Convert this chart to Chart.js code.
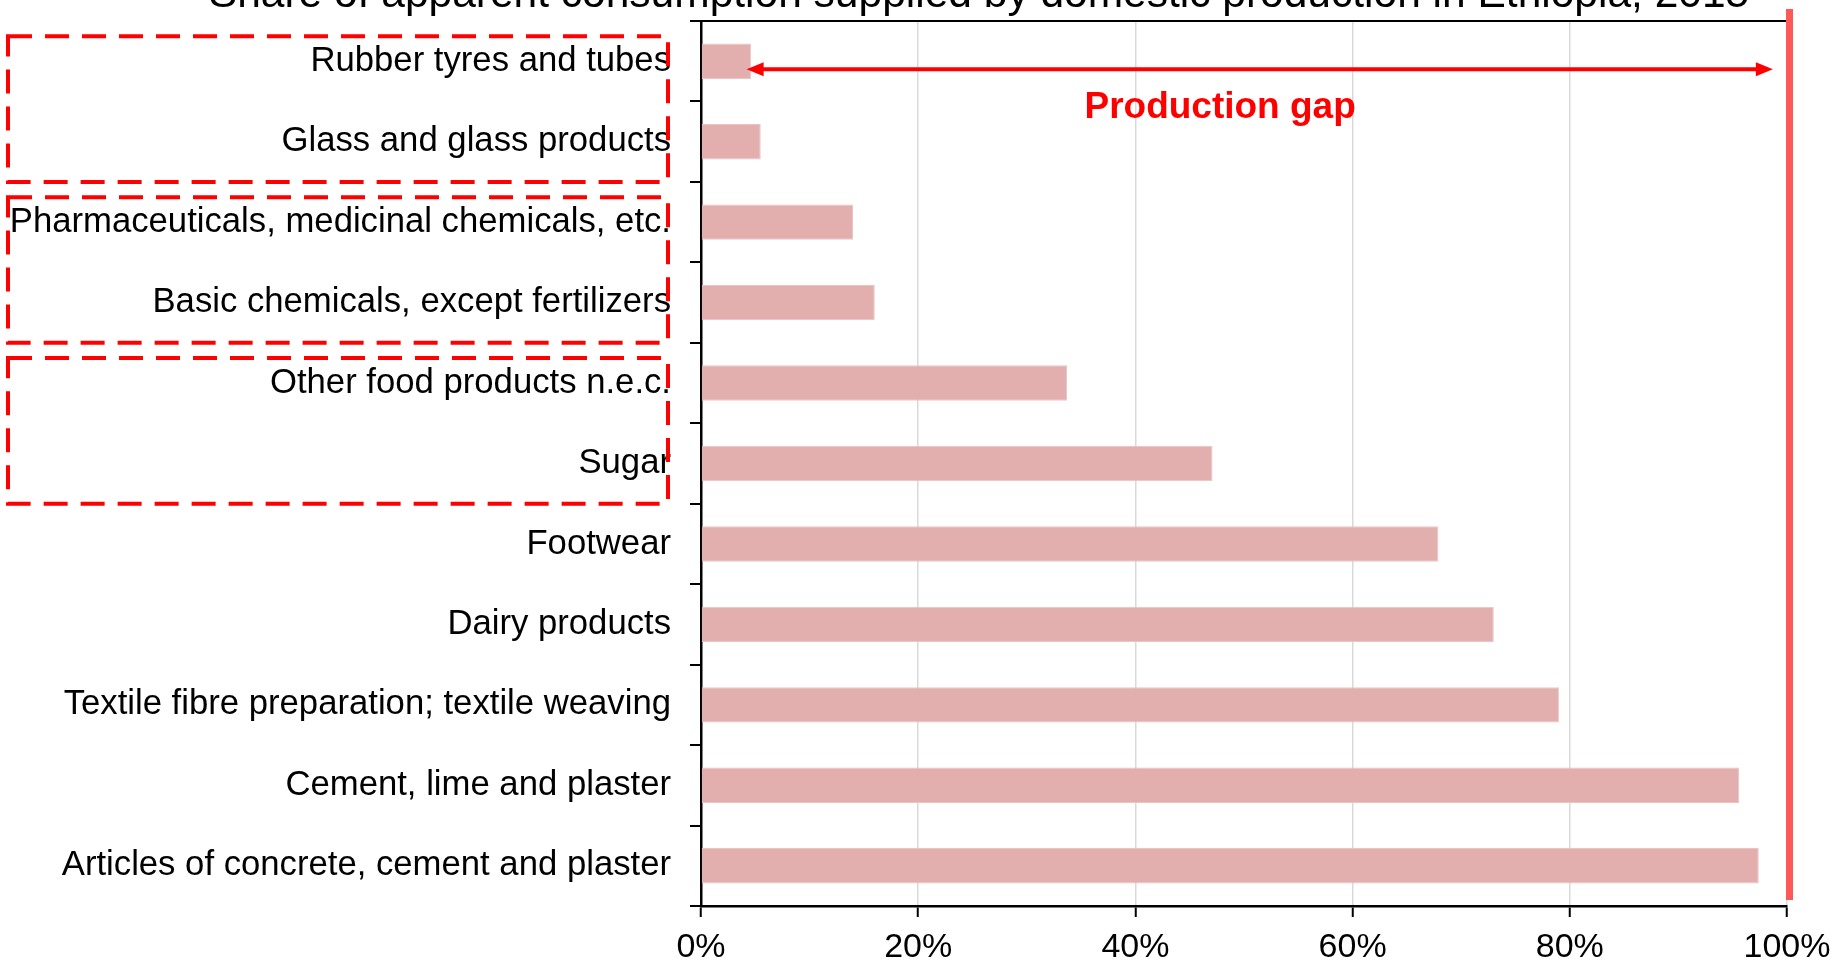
<!DOCTYPE html>
<html>
<head>
<meta charset="utf-8">
<script src="https://cdn.jsdelivr.net/npm/chart.js@4.4.1/dist/chart.umd.min.js"></script>
<style>
  html, body { margin: 0; padding: 0; background: #ffffff; overflow: hidden; }
  #wrap { width: 1835px; height: 966px; position: relative; }
</style>
</head>
<body>
<div id="wrap"><canvas id="c" width="1835" height="966"></canvas></div>
<script>
// ---- Data ----
const titleText = "Share of apparent consumption supplied by domestic production in Ethiopia, 2015";
const categories = [
  "Rubber tyres and tubes",
  "Glass and glass products",
  "Pharmaceuticals, medicinal chemicals, etc.",
  "Basic chemicals, except fertilizers",
  "Other food products n.e.c.",
  "Sugar",
  "Footwear",
  "Dairy products",
  "Textile fibre preparation; textile weaving",
  "Cement, lime and plaster",
  "Articles of concrete, cement and plaster"
];
const shareValues = [0.046, 0.055, 0.140, 0.160, 0.337, 0.471, 0.679, 0.730, 0.790, 0.956, 0.974];
const xTickValues = [0, 0.2, 0.4, 0.6, 0.8, 1.0];
const highlightGroups = [[0, 1], [2, 3], [4, 5]];
const gapLabel = "Production gap";
const gapArrowFrom = 0.042;
const gapArrowTo = 0.987;
const fullSupply = 1.0;

const FONT = '"Liberation Sans", Arial, Helvetica, sans-serif';

const overlay = {
  id: 'overlay',
  afterDatasetsDraw(chart) {
    const ctx = chart.ctx;
    const x = chart.scales.x, y = chart.scales.y;
    const ca = chart.chartArea;
    ctx.save();
    // plot-area top border
    ctx.strokeStyle = '#000';
    ctx.lineWidth = 2;
    ctx.beginPath();
    ctx.moveTo(ca.left, ca.top);
    ctx.lineTo(ca.right, ca.top);
    ctx.stroke();
    // 100% reference line
    const px = x.getPixelForValue(fullSupply);
    ctx.fillStyle = '#FF5858';
    ctx.fillRect(px - 1, ca.top - 12, 7, ca.bottom - ca.top + 6);
    // production gap arrow
    const step = y.getPixelForValue(1) - y.getPixelForValue(0);
    const ay = y.getPixelForValue(0) + 0.1 * step;
    const ax1 = x.getPixelForValue(gapArrowFrom);
    const ax2 = x.getPixelForValue(gapArrowTo);
    const hl = 17, hw = 7;
    ctx.strokeStyle = '#FF0000';
    ctx.fillStyle = '#FF0000';
    ctx.lineWidth = 4;
    ctx.beginPath();
    ctx.moveTo(ax1 + hl - 2, ay);
    ctx.lineTo(ax2 - hl + 2, ay);
    ctx.stroke();
    ctx.beginPath();
    ctx.moveTo(ax1, ay); ctx.lineTo(ax1 + hl, ay - hw); ctx.lineTo(ax1 + hl, ay + hw); ctx.closePath();
    ctx.fill();
    ctx.beginPath();
    ctx.moveTo(ax2, ay); ctx.lineTo(ax2 - hl, ay - hw); ctx.lineTo(ax2 - hl, ay + hw); ctx.closePath();
    ctx.fill();
    // label
    ctx.font = 'bold 37px ' + FONT;
    ctx.textAlign = 'center';
    ctx.textBaseline = 'middle';
    ctx.fillText(gapLabel, x.getPixelForValue(0.478), y.getPixelForValue(0.58));
    ctx.restore();
  },
  afterDraw(chart) {
    const ctx = chart.ctx;
    const y = chart.scales.y;
    const step = y.getPixelForValue(1) - y.getPixelForValue(0);
    ctx.save();
    // title (partly off the top of the picture)
    ctx.font = '42.5px ' + FONT;
    ctx.fillStyle = '#000';
    ctx.textAlign = 'center';
    ctx.textBaseline = 'alphabetic';
    ctx.fillText(titleText, 979, 7);
    // dashed group boxes
    ctx.strokeStyle = '#FF0000';
    ctx.lineWidth = 4;
    ctx.setLineDash([24, 13]);
    const left = 8, right = y.right - 33;
    highlightGroups.forEach(g => {
      const top = y.getPixelForValue(g[0]) - 0.31 * step;
      const bottom = y.getPixelForValue(g[1]) + 0.50 * step;
      ctx.strokeRect(left, top, right - left, bottom - top);
    });
    ctx.restore();
  }
};

new Chart(document.getElementById('c'), {
  type: 'bar',
  data: {
    labels: categories,
    datasets: [{
      data: shareValues,
      backgroundColor: '#E2AEAE',
      borderColor: '#EBC4C4',
      borderWidth: 1,
      barPercentage: 0.44,
      categoryPercentage: 1.0
    }]
  },
  options: {
    indexAxis: 'y',
    responsive: false,
    animation: false,
    devicePixelRatio: 1,
    layout: { padding: { top: 21, right: 48, left: 0, bottom: 0 } },
    plugins: { legend: { display: false }, tooltip: { enabled: false }, title: { display: false } },
    scales: {
      x: {
        type: 'linear',
        min: 0, max: 1,
        afterBuildTicks(scale) { scale.ticks = xTickValues.map(v => ({ value: v })); },
        afterFit(scale) { scale.height = 60; scale.paddingLeft = 0; scale.paddingRight = 0; },
        grid: { color: '#D9D9D9', lineWidth: 1.5, tickColor: '#000', tickLength: 11, tickWidth: 2 },
        border: { color: '#000', width: 2.5 },
        ticks: {
          font: { family: FONT, size: 34 },
          color: '#000',
          padding: 10,
          maxRotation: 0,
          callback: v => Math.round(v * 100) + '%'
        }
      },
      y: {
        type: 'category',
        offset: true,
        afterFit(scale) { scale.width = 701; scale.paddingTop = 0; scale.paddingBottom = 0; },
        grid: { display: true, drawOnChartArea: false, offset: true, color: '#000', tickColor: '#000', tickLength: 11, lineWidth: 2 },
        border: { color: '#000', width: 2.5 },
        ticks: {
          font: { family: FONT, size: 34.7 },
          color: '#000',
          padding: 19,
          autoSkip: false
        }
      }
    }
  },
  plugins: [overlay]
});
</script>
</body>
</html>
